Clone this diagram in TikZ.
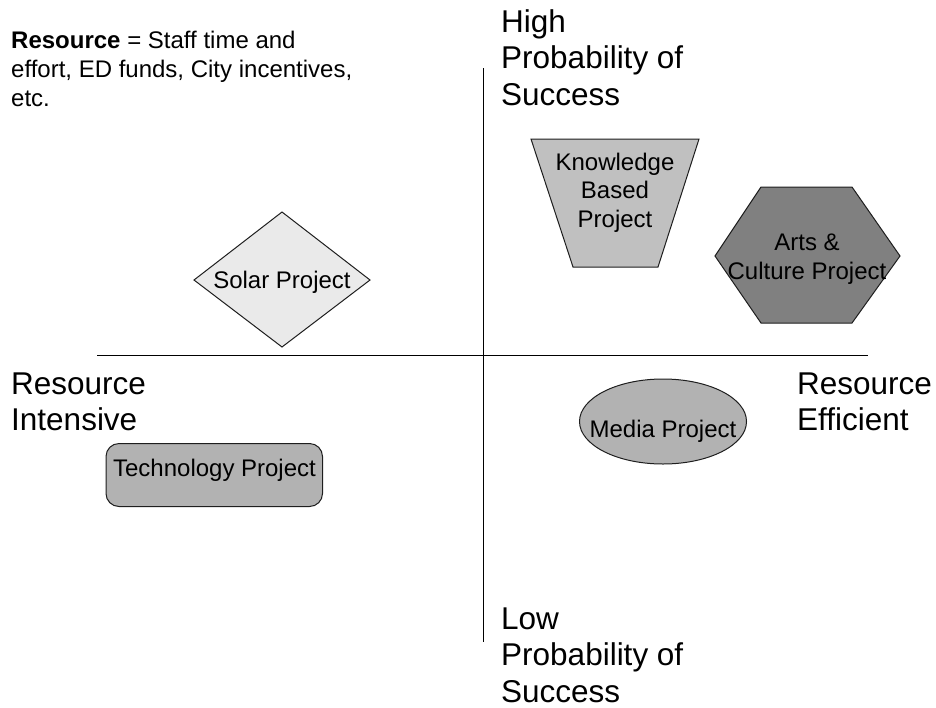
\documentclass[tikz,border=0pt]{standalone}
\usepackage{fontspec}
\setmainfont{Liberation Sans}
\definecolor{solarfill}{RGB}{234,234,234}
\definecolor{knowfill}{RGB}{192,192,192}
\definecolor{artsfill}{RGB}{128,128,128}
\definecolor{midfill}{RGB}{178,178,178}
\definecolor{edge}{RGB}{30,30,30}
\begin{document}
\begin{tikzpicture}[x=1pt,y=-1pt,
  big/.style={font=\fontsize{31.5}{36.5}\selectfont, align=left, anchor=north west, inner sep=0pt},
  lab/.style={font=\fontsize{24}{28.5}\selectfont, align=center, inner sep=0pt},
  note/.style={font=\fontsize{24}{29}\selectfont, align=left, anchor=north west, inner sep=0pt},
  shapeline/.style={draw=edge, line width=1pt},
  axis/.style={draw=black, line width=1pt}]
\useasboundingbox (0,0) rectangle (936,707);

% axes
\coordinate (vtop) at (483,68);
\coordinate (vbot) at (483,642);
\coordinate (hleft) at (97,355);
\coordinate (hright) at (868,355);
\draw[axis] (vtop) -- (vbot);
\draw[axis] (hleft) -- (hright);

% shapes
\draw[shapeline, fill=solarfill] (282,212) -- (370,280) -- (282,347) -- (194,280) -- cycle;
\draw[shapeline, fill=knowfill] (531,139) -- (699,139) -- (658,267) -- (573,267) -- cycle;
\draw[shapeline, fill=artsfill] (761,187) -- (852,187) -- (900,256) -- (852,323) -- (761,323) -- (715,256) -- cycle;
\draw[shapeline, fill=midfill] (663,421.5) ellipse [x radius=83.5, y radius=42.5];
\draw[shapeline, fill=midfill, rounded corners=13pt] (106,443.5) rectangle (322.5,506.5);

% labels
\node[lab, anchor=base] (solar) at (282,288) {Solar Project};
\node[lab, anchor=north] (know) at (615,152.5) {Knowledge\\Based\\Project};
\node[lab, anchor=north] (arts) at (807,234) {Arts \&\\Culture Project};
\node[lab, anchor=base] (media) at (663,437.5) {Media Project};
\node[lab, anchor=base] (tech) at (214.5,476) {Technology Project};

% axis texts
\node[big] (high) at (501,9) {High\\Probability of\\Success};
\node[big] (low) at (501,607.2) {Low\\Probability of\\Success};
\node[big] (intens) at (11,372.2) {Resource\\Intensive};
\node[big] (effic) at (797,372.2) {Resource\\Efficient};

% note
\node[note] (defn) at (11,31) {\textbf{Resource} = Staff time and\\effort, ED funds, City incentives,\\etc.};
\end{tikzpicture}
\end{document}
